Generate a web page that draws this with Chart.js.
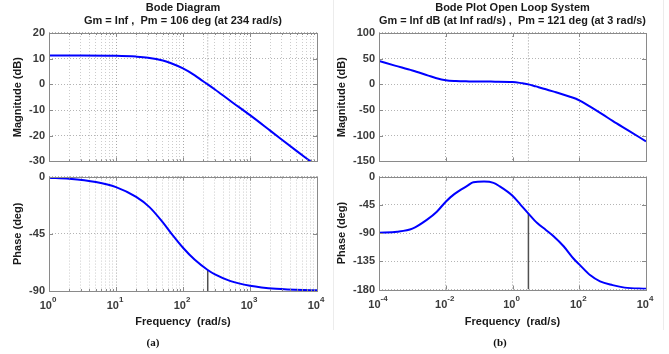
<!DOCTYPE html>
<html>
<head>
<meta charset="utf-8">
<script src="https://cdn.jsdelivr.net/npm/chart.js@4.4.1/dist/chart.umd.min.js"></script>
<style>
  body { margin: 0; background: #fff; width: 669px; height: 354px; overflow: hidden; position: relative; }
  canvas { position: absolute; }
  .cap { position: absolute; font: bold 11px "Liberation Serif", "Times New Roman", serif; color: #111; transform: translate(-50%, -50%); }
  .edge { position: absolute; width: 1px; top: 0; height: 330px; background: #ececec; }
</style>
</head>
<body>
<div class="edge" style="left:333px"></div>
<div class="edge" style="left:663px"></div>
<canvas id="magA" width="335" height="172" style="left:0;top:0"></canvas>
<canvas id="phA" width="335" height="164" style="left:0;top:166px"></canvas>
<canvas id="magB" width="334" height="172" style="left:335px;top:0"></canvas>
<canvas id="phB" width="334" height="164" style="left:335px;top:166px"></canvas>
<div class="cap" style="left:153px;top:342px">(a)</div>
<div class="cap" style="left:500px;top:342px">(b)</div>
<script>
// (a) closed loop
const wMagA = [1, 3, 10, 20, 30, 50, 65, 100, 150, 200, 234, 300, 500, 1000, 2000, 5000, 8000];
const magA  = [11.2, 11.2, 11.1, 10.8, 10.4, 9.3, 8.3, 6.2, 3.5, 1.2, 0, -2.0, -6.3, -12.0, -18.0, -26.0, -30];
const wPhA  = [1, 2, 5, 10, 20, 31.6, 50, 71, 100, 150, 234, 300, 500, 1000, 2450, 10000];
const phA   = [-0.9, -1.7, -4.3, -8.3, -16, -24, -36, -46.5, -56, -65.5, -73.5, -77, -82, -85.8, -88.2, -89.5];
const wcA = 234, pmPhaseA = -73.5;

// (b) open loop
const wMagB = [1e-4, 3e-4, 1e-3, 3e-3, 5e-3, 1e-2, 2e-2, 5e-2, 0.1, 0.3, 1, 2, 3, 5, 10, 20, 50, 80, 100, 150, 200, 500, 1000, 3000, 10000];
const magB  = [45.5, 36.5, 27, 17, 12.5, 8, 6.5, 5.8, 5.5, 5.3, 4.8, 2, 0, -4, -9.5, -15.5, -23.5, -28, -31, -37.5, -42.5, -58.5, -71, -90, -111];
const wPhB  = [1e-4, 3.5e-4, 1e-3, 2.7e-3, 5.4e-3, 1e-2, 1.8e-2, 4.5e-2, 0.067, 0.14, 0.27, 0.4, 1, 1.75, 3, 5.5, 10, 17, 34, 68, 100, 210, 420, 1000, 2300, 10000];
const phB   = [-89.5, -88, -83, -69, -56, -40, -28, -14.5, -9, -8, -10, -15, -30.5, -45, -59, -74, -85, -95, -111, -131, -140, -157, -167, -173, -177, -179];
const wcB = 3, pmPhaseB = -59;

const decadesA = [1, 10, 100, 1000, 10000];
const expA = ['0', '1', '2', '3', '4'];
const decadesB = [1e-4, 1e-2, 1, 100, 10000];
const expB = ['-4', '-2', '0', '2', '4'];

const gridA = [];
decadesA.slice(0, -1).forEach(d => { for (let k = 1; k < 10; k++) gridA.push(d * k); });
gridA.push(10000);

const FONT = '"Liberation Sans", Arial, sans-serif';
Chart.defaults.font.family = FONT;
Chart.defaults.font.weight = 'bold';
Chart.defaults.font.size = 11;

function isDecade(v) {
  const l = Math.log10(v);
  return Math.abs(l - Math.round(l)) < 1e-6;
}
const pts = (xs, ys) => xs.map((x, i) => ({ x: x, y: ys[i] }));

// box round the axes, with small inward ticks like matlab
const frame = {
  id: 'frame',
  afterDraw(chart) {
    const { ctx, chartArea: a, scales: { x, y } } = chart;
    ctx.save();
    ctx.strokeStyle = '#8a8a8a';
    ctx.lineWidth = 1;
    ctx.beginPath();
    x.ticks.forEach(t => {
      const px = Math.round(x.getPixelForValue(t.value)) + 0.5;
      const len = isDecade(t.value) ? 4 : 2;
      ctx.moveTo(px, a.top); ctx.lineTo(px, a.top + len);
      ctx.moveTo(px, a.bottom); ctx.lineTo(px, a.bottom - len);
    });
    y.ticks.forEach(t => {
      const py = Math.round(y.getPixelForValue(t.value)) + 0.5;
      ctx.moveTo(a.left, py); ctx.lineTo(a.left + 4, py);
      ctx.moveTo(a.right, py); ctx.lineTo(a.right - 4, py);
    });
    ctx.stroke();
    ctx.strokeRect(Math.round(a.left) + 0.5, Math.round(a.top) + 0.5, Math.round(a.width), Math.round(a.height));
    ctx.restore();
  }
};

// 10^n labels with a raised exponent
const decadeLabels = {
  id: 'decadeLabels',
  afterDraw(chart, args, opts) {
    if (!opts.values) return;
    const { ctx, scales: { x }, chartArea: a } = chart;
    const big = 'bold 11px ' + FONT, small = 'bold 8px ' + FONT;
    ctx.save();
    ctx.fillStyle = '#3a3a3a';
    ctx.textBaseline = 'middle';
    ctx.textAlign = 'left';
    opts.values.forEach((v, i) => {
      const px = x.getPixelForValue(v);
      ctx.font = big;
      const w1 = ctx.measureText('10').width;
      ctx.font = small;
      const w2 = ctx.measureText(opts.exps[i]).width;
      const x0 = px - (w1 + w2) / 2 - 1;
      ctx.font = big;
      ctx.fillText('10', x0, a.bottom + 15);
      ctx.font = small;
      ctx.fillText(opts.exps[i], x0 + w1, a.bottom + 9);
    });
    ctx.restore();
  }
};
Chart.register(frame, decadeLabels);

function curve(data) {
  return { data: data, borderColor: '#0000ff', borderWidth: 2, pointRadius: 0, cubicInterpolationMode: 'monotone', fill: false };
}
function marker(data, dotted) {
  return {
    data: data, borderColor: dotted ? '#9a9a9a' : '#505050', borderWidth: dotted ? 1 : 1.5,
    borderDash: dotted ? [1, 2] : [], pointRadius: 0, tension: 0, fill: false
  };
}

function bodeChart(id, p) {
  return new Chart(document.getElementById(id), {
    type: 'line',
    data: { datasets: p.datasets },
    options: {
      responsive: false,
      devicePixelRatio: 1,
      animation: false,
      layout: { padding: { top: p.padTop, right: p.padRight, left: 0, bottom: 0 } },
      plugins: {
        legend: { display: false },
        tooltip: { enabled: false },
        title: p.title ? {
          display: true, text: p.title, fullSize: false, color: '#1a1a1a',
          font: { size: 11, weight: 'bold', lineHeight: 1.227 }, padding: { top: 1, bottom: 5 }
        } : { display: false },
        decadeLabels: p.labels || {}
      },
      scales: {
        x: {
          type: 'logarithmic', min: p.xMin, max: p.xMax,
          afterBuildTicks: s => { s.ticks = p.xGrid.map(v => ({ value: v })); },
          afterFit: s => { s.height = p.xHeight; },
          ticks: { display: false },
          grid: { drawTicks: false, color: c => (c.tick && isDecade(c.tick.value)) ? '#a8a8a8' : '#cccccc' },
          border: { display: false, dash: [1, 2] },
          title: p.xTitle ? {
            display: true, text: p.xTitle, color: '#1a1a1a', padding: { top: 0, bottom: 1.4 }
          } : { display: false }
        },
        y: {
          min: p.yMin, max: p.yMax,
          afterFit: s => { s.width = p.yWidth; },
          ticks: { stepSize: p.yStep, padding: 4, color: '#3a3a3a' },
          grid: { drawTicks: false, color: '#b4b4b4' },
          border: { display: false, dash: [1, 2] },
          title: { display: true, text: p.yTitle, color: '#1a1a1a', padding: { top: p.yTitlePad, bottom: 0 } }
        }
      }
    }
  });
}

bodeChart('magA', {
  datasets: [curve(pts(wMagA, magA)), marker([{ x: wcA, y: -30 }, { x: wcA, y: 20 }], true)],
  title: ['Bode Diagram', 'Gm = Inf ,  Pm = 106 deg (at 234 rad/s)'],
  padTop: 0, padRight: 18, xHeight: 7, yWidth: 49, yTitlePad: 11.4,
  xMin: 1, xMax: 10000, xGrid: gridA,
  yMin: -30, yMax: 20, yStep: 10, yTitle: 'Magnitude (dB)'
});

bodeChart('phA', {
  datasets: [curve(pts(wPhA, phA)), marker([{ x: wcA, y: -90 }, { x: wcA, y: pmPhaseA }], false)],
  padTop: 9, padRight: 18, xHeight: 39, yWidth: 49, yTitlePad: 11.4,
  xMin: 1, xMax: 10000, xGrid: gridA, xTitle: 'Frequency  (rad/s)',
  labels: { values: decadesA, exps: expA },
  yMin: -90, yMax: 0, yStep: 45, yTitle: 'Phase (deg)'
});

bodeChart('magB', {
  datasets: [curve(pts(wMagB, magB)), marker([{ x: wcB, y: -150 }, { x: wcB, y: 100 }], true)],
  title: ['Bode Plot Open Loop System', 'Gm = Inf dB (at Inf rad/s) ,  Pm = 121 deg (at 3 rad/s)'],
  padTop: 0, padRight: 23, xHeight: 7, yWidth: 44, yTitlePad: 0.4,
  xMin: 1e-4, xMax: 1e4, xGrid: decadesB,
  yMin: -150, yMax: 100, yStep: 50, yTitle: 'Magnitude (dB)'
});

bodeChart('phB', {
  datasets: [curve(pts(wPhB, phB)),
             marker([{ x: wcB, y: -180 }, { x: wcB, y: pmPhaseB }], false),
             marker([{ x: wcB, y: pmPhaseB }, { x: wcB, y: 0 }], true)],
  padTop: 8, padRight: 23, xHeight: 40.5, yWidth: 44, yTitlePad: 0.4,
  xMin: 1e-4, xMax: 1e4, xGrid: decadesB, xTitle: 'Frequency  (rad/s)',
  labels: { values: decadesB, exps: expB },
  yMin: -180, yMax: 0, yStep: 45, yTitle: 'Phase (deg)'
});
</script>
</body>
</html>
